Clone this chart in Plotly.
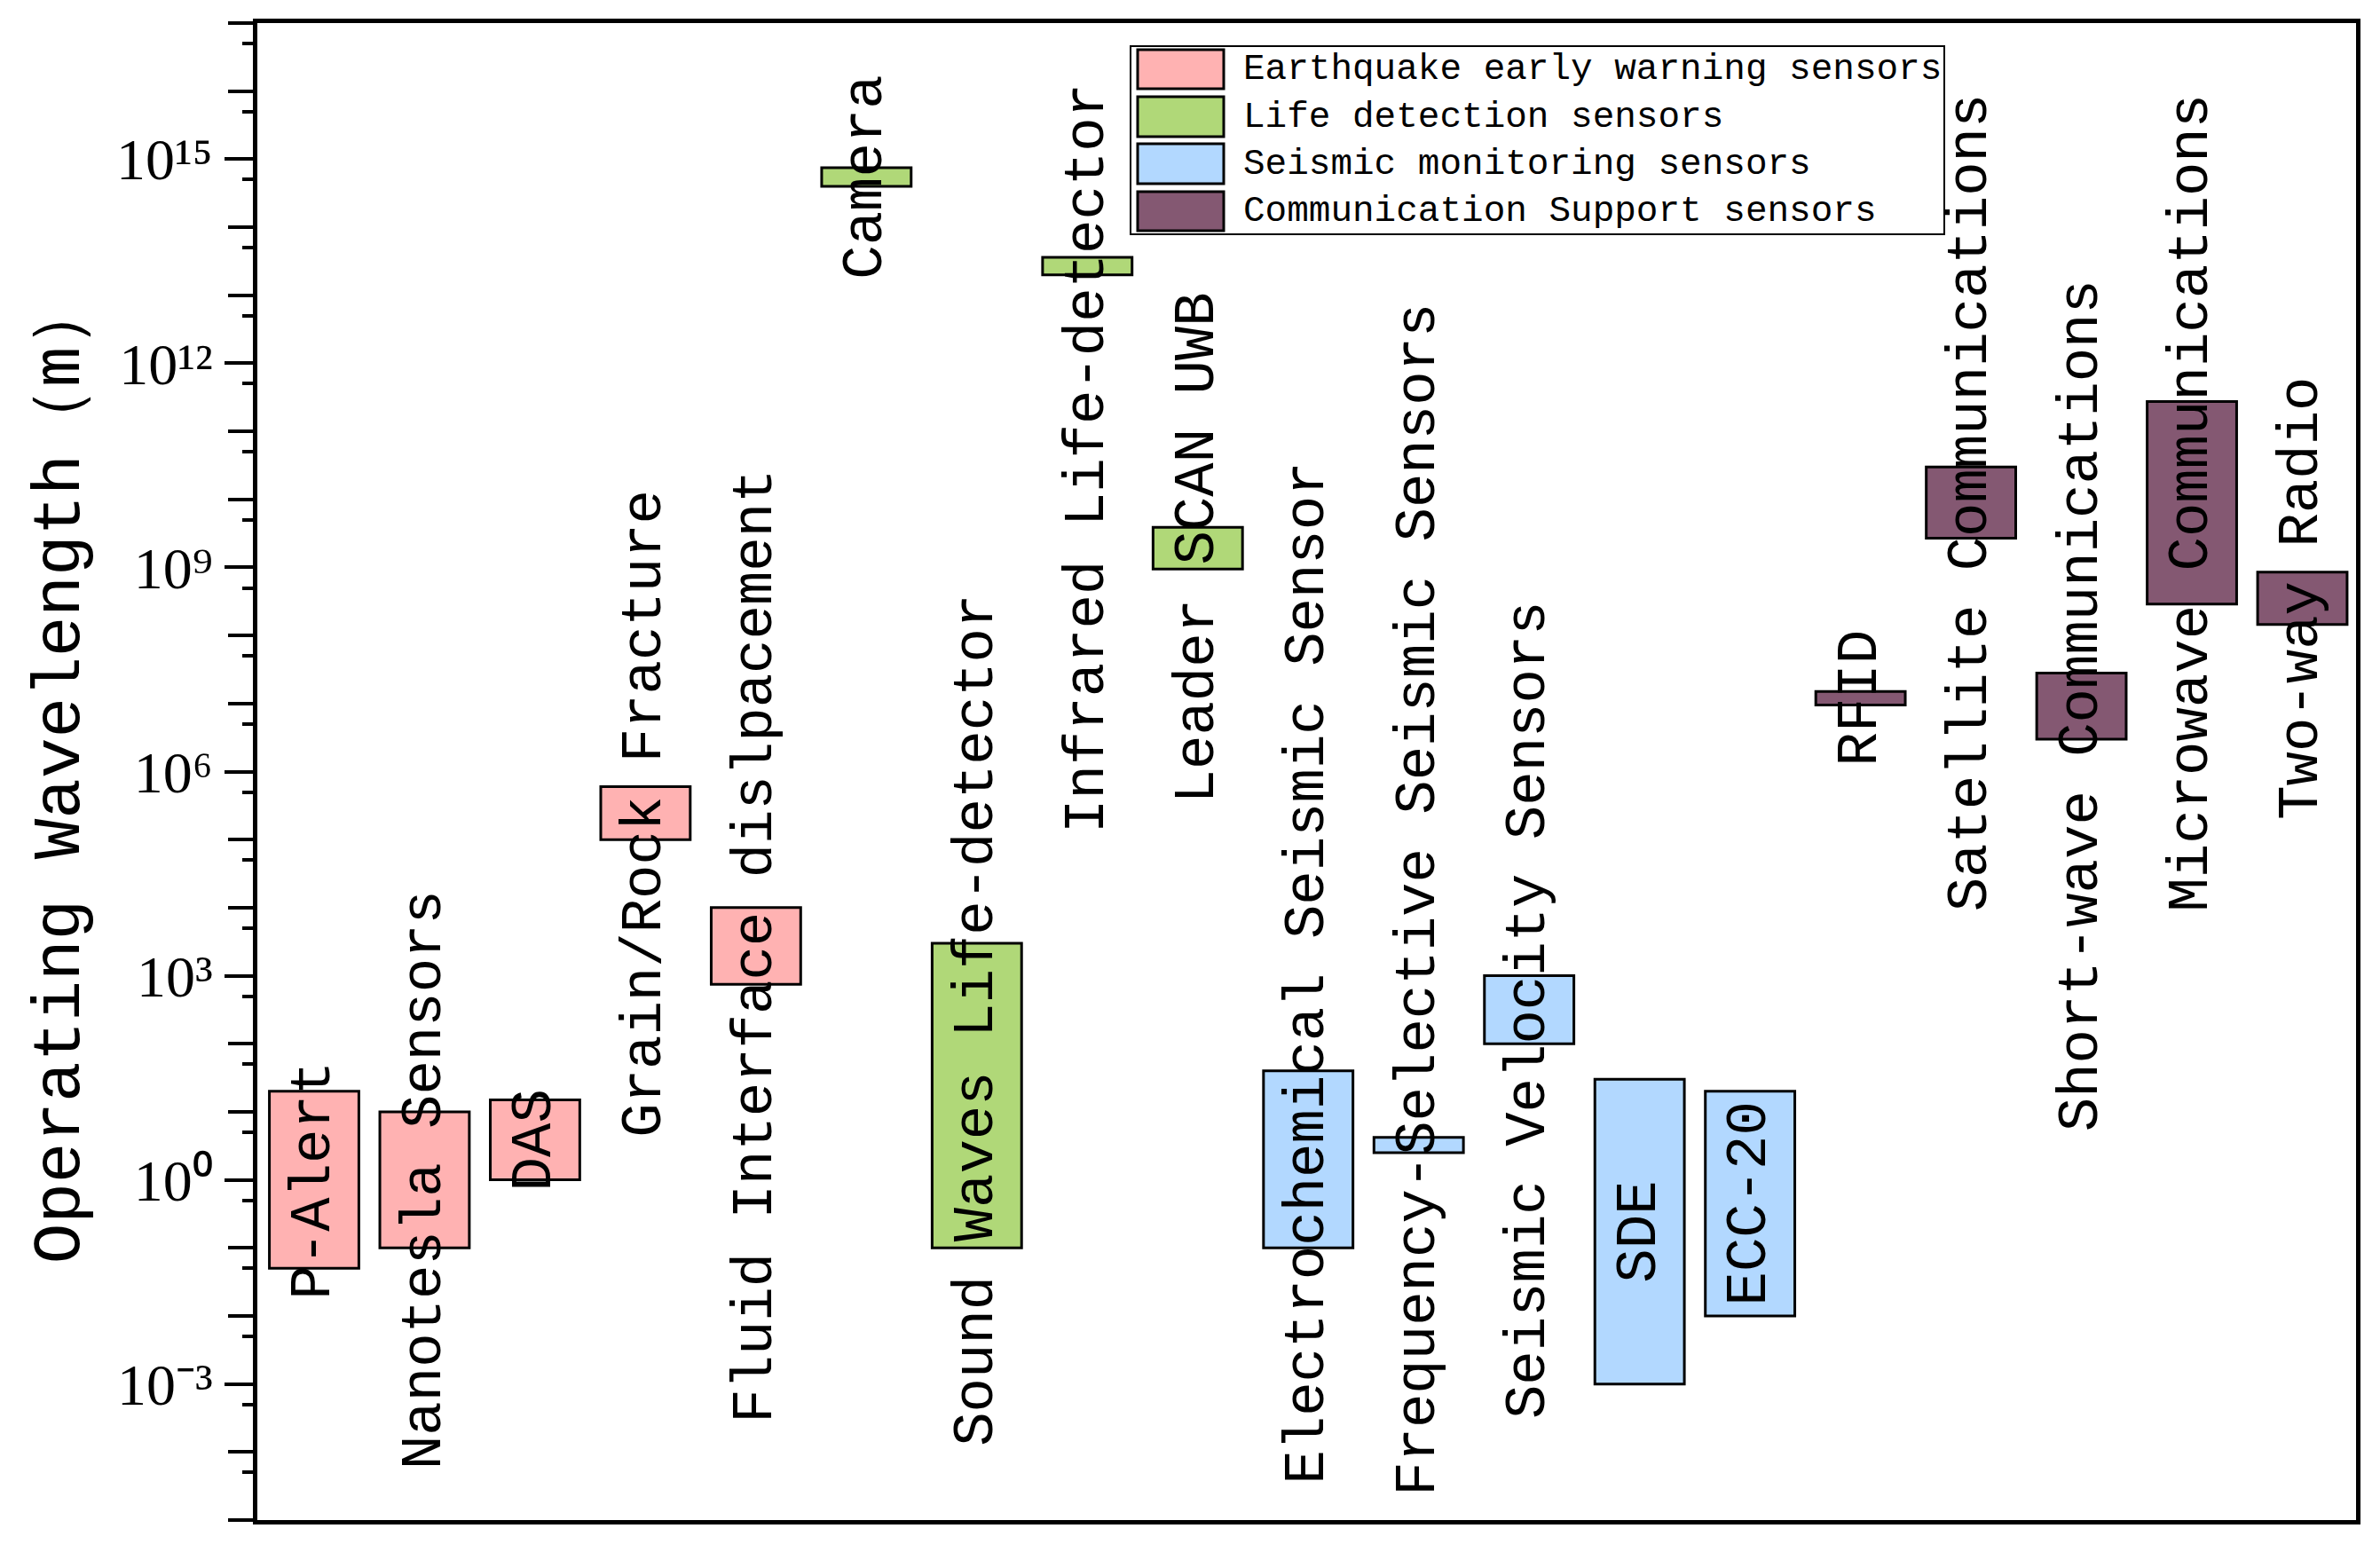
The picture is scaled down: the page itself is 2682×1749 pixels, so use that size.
import math
import plotly.graph_objects as go

# ---------------- data ----------------
sensors = [
    "P-Alert", "Nanotesla Sensors", "DAS", "Grain/Rock Fracture",
    "Fluid Interface dislpacement", "Camera", "Sound Waves Life-detector",
    "Infrared Life-detector", "Leader SCAN UWB", "Electrochemical Seismic Sensor",
    "Frequency-Selective Seismic Sensors", "Seismic Velocity Sensors", "SDE",
    "ECC-20", "RFID", "Satellite Communications", "Short-wave Communications",
    "Microwave Communications", "Two-way Radio",
]
group_of = [0, 0, 0, 0, 0, 1, 1, 1, 1, 2, 2, 2, 2, 2, 3, 3, 3, 3, 3]
wl_min = [0.05, 0.1, 1, 1e5, 750, 4e14, 0.1, 2e13, 9.5e8, 0.1, 2.5, 100,
          1e-3, 0.01, 9.5e6, 2.7e9, 3e6, 2.9e8, 1.45e8]
wl_max = [20, 10, 15, 6e5, 1e4, 7.5e14, 3000, 3.6e13, 3.9e9, 40, 4.2, 1000,
          30, 20, 1.5e7, 3e10, 2.8e7, 2.75e11, 8.5e8]
group_names = [
    "Earthquake early warning sensors",
    "Life detection sensors",
    "Seismic monitoring sensors",
    "Communication Support sensors",
]
# label anchors that were moved away from their box centre (wavelength value)
label_at = {6: 220, 7: 4e10, 9: 1.1e3, 10: 1.3e4}

tick_exponents = list(range(-5, 18))
label_exponents = [-3, 0, 3, 6, 9, 12, 15]

# ---------------- style ----------------
colors = ["#FFB2B2", "#B0D878", "#B2D8FF", "#845872"]
W, H = 2682, 1749          # window
BODY = 8                   # default page margin around the plot div
FW, FH = W - 2 * BODY, H - 2 * BODY
# target plot-area edges in window pixels
PL, PR, PT, PB = 290, 2655, 26, 1713
ML, MT = PL - BODY, PT - BODY
MR, MB = (BODY + FW) - PR, (BODY + FH) - PB
LABEL_FONT = dict(family="Liberation Mono", size=64, color="black")
SUP = str.maketrans("0123456789-", "⁰¹²³⁴⁵⁶⁷⁸⁹⁻")


def px_x(px):
    return (px - PL) / (PR - PL)


def px_y(py):
    return (PB - py) / (PB - PT)


fig = go.Figure()
positions = list(range(1, len(sensors) + 1))
for g, name in enumerate(group_names):
    idx = [i for i, gg in enumerate(group_of) if gg == g]
    fig.add_trace(go.Bar(
        x=[positions[i] for i in idx],
        y=[wl_max[i] - wl_min[i] for i in idx],
        base=[wl_min[i] for i in idx],
        width=0.81,
        name=name,
        marker=dict(color=colors[g], line=dict(color="black", width=3)),
        showlegend=False,
        hovertext=[sensors[i] for i in idx],
    ))
# carrier for the secondary (unlabelled decade / minor tick) axis
fig.add_trace(go.Scatter(x=[positions[0]], y=[wl_min[0]], yaxis="y2",
                         mode="markers", marker=dict(opacity=0), showlegend=False,
                         hoverinfo="skip"))

annotations = []
for i, s in enumerate(sensors):
    if i in label_at:
        yc = math.log10(label_at[i])
    else:
        yc = (math.log10(wl_min[i]) + math.log10(wl_max[i])) / 2
    annotations.append(dict(
        x=positions[i], y=yc, xref="x", yref="y", text=s, textangle=-90,
        showarrow=False, xanchor="center", yanchor="middle", font=LABEL_FONT,
    ))

# manual legend (large swatches like the original)
shapes = []
leg_box = (1274, 52, 2191, 264)
shapes.append(dict(type="rect", xref="paper", yref="paper",
                   x0=px_x(leg_box[0]), x1=px_x(leg_box[2]),
                   y0=px_y(leg_box[3]), y1=px_y(leg_box[1]),
                   line=dict(color="black", width=2), fillcolor="white", layer="above"))
rows = [(56, 100), (109, 154), (162, 207), (216, 260)]
for g, (t, b) in enumerate(rows):
    shapes.append(dict(type="rect", xref="paper", yref="paper",
                       x0=px_x(1282), x1=px_x(1379), y0=px_y(b), y1=px_y(t),
                       line=dict(color="black", width=3), fillcolor=colors[g], layer="above"))
    annotations.append(dict(
        x=px_x(1399), y=px_y((t + b) / 2), xref="paper", yref="paper",
        text=group_names[g], showarrow=False, xanchor="left", yanchor="middle",
        font=dict(family="Liberation Mono", size=41, color="black"),
    ))

label_vals = [10.0 ** k for k in label_exponents]
label_text = ["10" + str(k).translate(SUP) for k in label_exponents]
decade_vals = [10.0 ** k for k in tick_exponents]
minor_vals = [5 * 10.0 ** k for k in range(-5, 17)]

fig.update_layout(
    width=FW, height=FH,
    margin=dict(l=ML, r=MR, t=MT, b=MB, pad=0),
    paper_bgcolor="white", plot_bgcolor="white",
    barmode="overlay",
    showlegend=False,
    annotations=annotations,
    shapes=shapes,
    xaxis=dict(range=[0.486, 19.486], showticklabels=False, ticks="",
               showgrid=False, zeroline=False, showline=True, linecolor="black",
               linewidth=5, mirror=True),
    yaxis=dict(type="log", range=[-5, 17], tickmode="array", tickvals=label_vals,
               ticktext=label_text, ticks="outside", ticklen=32, tickwidth=4,
               tickcolor="black", showgrid=False, zeroline=False, showline=True,
               linecolor="black", linewidth=5, mirror=True,
               tickfont=dict(family="Liberation Serif", size=66, color="black"),
               title=dict(text="Operating Wavelength（m）",
                          font=dict(family="Liberation Mono", size=76, color="black"),
                          standoff=18)),
    yaxis2=dict(type="log", range=[-5, 17], overlaying="y", anchor="x", side="left",
                tickmode="array", tickvals=decade_vals, showticklabels=False,
                ticks="outside", ticklen=32, tickwidth=4, tickcolor="black",
                showgrid=False, zeroline=False, showline=False,
                minor=dict(tickmode="array", tickvals=minor_vals, ticks="outside",
                           ticklen=16, tickwidth=4, tickcolor="black", showgrid=False)),
)

fig.write_html("out.html")
